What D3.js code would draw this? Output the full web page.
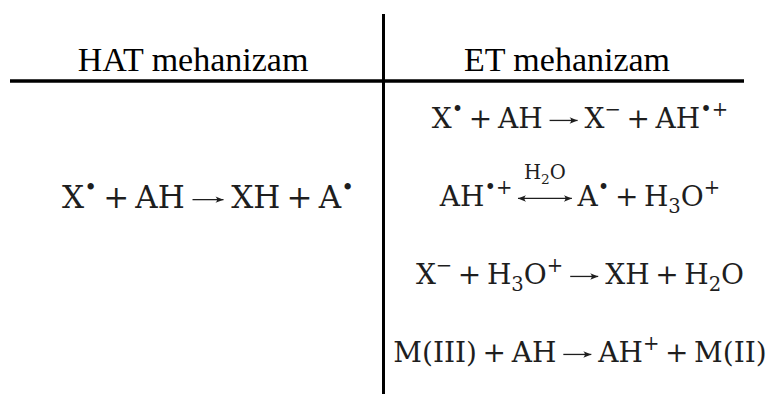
<!DOCTYPE html>
<html>
<head>
<meta charset="utf-8">
<script src="https://cdn.jsdelivr.net/npm/d3@7"></script>
<style>
  body { margin: 0; background: #ffffff; }
  svg { display: block; }
</style>
</head>
<body>
<div id="chart"></div>
<script>
// column titles
var headers = ["HAT mehanizam", "ET mehanizam"];
// reactions, small markup: ^{..} superscript, _{..} subscript, -> arrow, <->{label} equilibrium arrow
var hatReactions = ["X^{•} + AH -> XH + A^{•}"];
var etReactions = [
  "X^{•} + AH -> X^{−} + AH^{•+}",
  "AH^{•+} <->{H_{2}O} A^{•} + H_{3}O^{+}",
  "X^{−} + H_{3}O^{+} -> XH + H_{2}O",
  "M(III) + AH -> AH^{+} + M(II)"
];

var width = 775,
  height = 394;
var divider = 383.5; // vertical rule
var ruleY = 81; // header rule
var eqColor = "#1e1e1e";

var svg = d3
  .select("#chart")
  .append("svg")
  .attr("width", width)
  .attr("height", height);

//columns
var colX = d3.scaleOrdinal().domain(headers).range([193, 567]);
var eqX = d3.scaleOrdinal().domain(["HAT", "ET"]).range([208, 580]);
//row baselines of the ET column
var rowY = d3
  .scalePoint()
  .domain(d3.range(etReactions.length))
  .range([128, 362]);

// rules
svg
  .append("line")
  .attr("x1", 10)
  .attr("x2", 744)
  .attr("y1", ruleY)
  .attr("y2", ruleY)
  .attr("stroke", "#000")
  .attr("stroke-width", 3.5);
svg
  .append("line")
  .attr("x1", divider)
  .attr("x2", divider)
  .attr("y1", 14)
  .attr("y2", height)
  .attr("stroke", "#000")
  .attr("stroke-width", 3);

// headers
svg
  .selectAll("text.header")
  .data(headers)
  .enter()
  .append("text")
  .attr("class", "header")
  .attr("x", (d) => colX(d))
  .attr("y", 71)
  .attr("text-anchor", "middle")
  .style("font-family", "'Liberation Serif', 'Times New Roman', Times, serif")
  .attr("font-size", 34)
  .attr("fill", "#000")
  .text((d) => d);

/**
 * Lays out one word with sub/superscripts starting at cursor, returns new cursor
 */
function drawWord(g, word, cursor, size) {
  var re = /(\^|_)\{([^}]*)\}|[^\^_]+/g;
  var m;
  while ((m = re.exec(word)) !== null) {
    var txt = m[1] ? m[2] : m[0];
    var fs = m[1] ? size * 0.7 : size;
    var dy = 0;
    if (m[1] === "^") dy = -size * 0.42;
    if (m[1] === "_") dy = size * 0.24;
    var t = g
      .append("text")
      .attr("x", cursor)
      .attr("y", dy)
      .attr("font-size", fs)
      .text(txt);
    cursor += t.node().getComputedTextLength();
  }
  return cursor;
}

function drawHead(g, x, y, dir) {
  // small filled arrow head, dir 1 = right, -1 = left
  var l = 8,
    w = 3.2;
  g.append("path")
    .attr(
      "d",
      "M" + x + "," + y +
        "L" + (x - dir * l) + "," + (y - w) +
        "Q" + (x - dir * l * 0.6) + "," + y + " " + (x - dir * l) + "," + (y + w) +
        "Z"
    )
    .attr("fill", eqColor);
}

function drawArrow(g, x0, len, size, both) {
  var ay = -size * 0.27;
  g.append("line")
    .attr("x1", x0)
    .attr("x2", x0 + len)
    .attr("y1", ay)
    .attr("y2", ay)
    .attr("stroke", eqColor)
    .attr("stroke-width", 1.3);
  drawHead(g, x0 + len, ay, 1);
  if (both) drawHead(g, x0, ay, -1);
}

/**
 * Draws a reaction string into a group centred on cx, baseline y
 */
function drawReaction(src, cx, y, size) {
  var g = svg
    .append("g")
    .style("font-family", "'DejaVu Serif', serif")
    .attr("fill", eqColor);
  var cursor = 0;
  var binGap = size * 0.2,
    relGap = size * 0.25;
  src.split(" ").forEach(function (w) {
    if (w === "+") {
      cursor += binGap;
      cursor = drawWord(g, "+", cursor, size);
      cursor += binGap;
    } else if (w === "->") {
      cursor += relGap;
      drawArrow(g, cursor, size, size, false);
      cursor += size + relGap;
    } else if (w.indexOf("<->") === 0) {
      var label = w.slice(4, -1);
      var lg = g.append("g");
      var lw = drawWord(lg, label, 0, size * 0.7);
      var len = Math.max(lw + 12, size * 1.85);
      cursor += relGap * 0.8;
      lg.attr(
        "transform",
        "translate(" + (cursor + (len - lw) / 2) + "," + -size * 0.95 + ")"
      );
      drawArrow(g, cursor, len, size, true);
      cursor += len + relGap * 0.8;
    } else {
      cursor = drawWord(g, w, cursor, size);
    }
  });
  g.attr("transform", "translate(" + (cx - cursor / 2) + "," + y + ")");
}

hatReactions.forEach(function (r) {
  drawReaction(r, eqX("HAT"), 208, 31);
});
etReactions.forEach(function (r, i) {
  drawReaction(r, eqX("ET"), rowY(i), 28);
});
</script>
</body>
</html>
